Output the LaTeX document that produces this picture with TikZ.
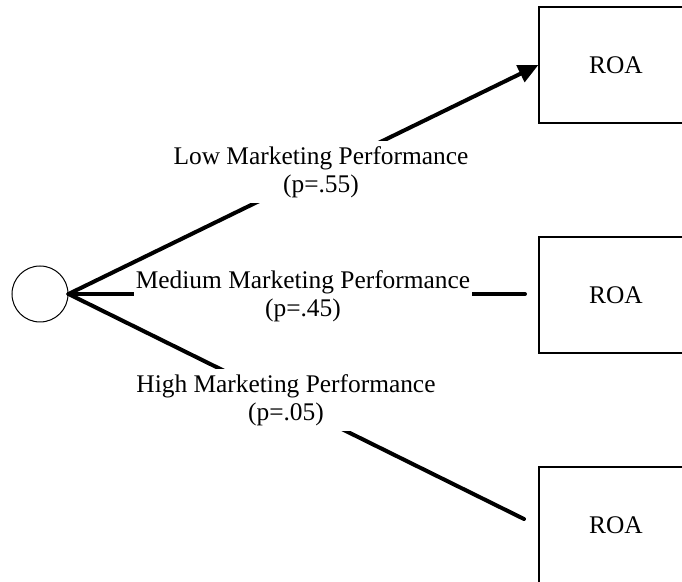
\documentclass[tikz,border=0pt]{standalone}
\usepackage{fontspec}
\setmainfont{Liberation Serif}
\usetikzlibrary{arrows.meta}
\begin{document}
\begin{tikzpicture}[x=0.5pt,y=-0.5pt,
  outcome/.style={draw, line width=0.6pt, minimum width=77pt, minimum height=58pt,
    inner sep=0pt, font=\fontsize{12.7}{14}\selectfont},
  chance/.style={draw, circle, line width=0.5pt, minimum size=28pt, inner sep=0pt},
  branch/.style={line width=2pt, line cap=round},
  lbl/.style={fill=white, align=center, inner xsep=1pt, inner ysep=2.5pt,
    font=\fontsize{12.7}{14}\selectfont}]
\useasboundingbox (0,0) rectangle (682,582);
\clip (0,0) rectangle (682,582);
% chance node and outcome boxes
\node[chance] (c) at (40,294) {};
\node[outcome] (r1) at (616,65) {ROA};
\node[outcome] (r2) at (616,295) {ROA};
\node[outcome] (r3) at (616,525) {ROA};
\coordinate (e2) at (525,294);
\coordinate (e3) at (524,519);
% branches
\draw[branch, -{Triangle[length=10pt,width=9pt]}] (c.east) -- (r1.west);
\draw[branch] (c.east) -- (e2);
\draw[branch] (c.east) -- (e3);
% branch labels
\node[lbl] (l1) at (321,172) {Low Marketing Performance\\(p=.55)};
\node[lbl, inner ysep=0pt] (l2) at (303,296) {Medium Marketing Performance\\(p=.45)};
\node[lbl] (l3) at (286,400) {High Marketing Performance\\(p=.05)};
\end{tikzpicture}
\end{document}
